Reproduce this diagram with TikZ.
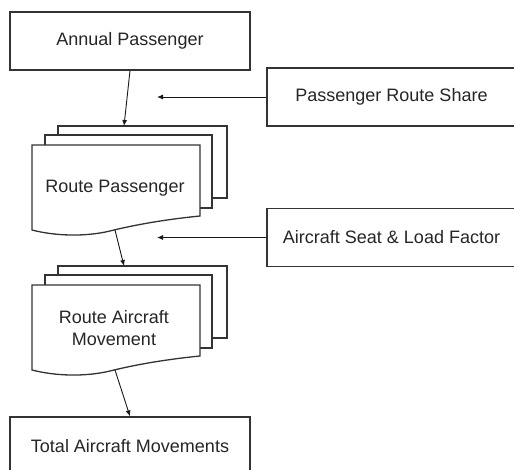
\documentclass[tikz,border=0pt]{standalone}
\usepackage{fontspec}
\setmainfont{Liberation Sans}
\usetikzlibrary{arrows.meta}

% stacked documents: back sheet, middle sheet, front sheet with a wavy bottom
\newcommand{\docstack}[1]{%
    \filldraw[sheet] (26,-19) rectangle (195,53);
    \filldraw[sheet] (13,-10) rectangle (180,63);
    \filldraw[sheet] (0,0) -- (168,0) -- (168,71)
        .. controls (128,75) and (98,81) .. (78,86)
        .. controls (53,92) and (23,91) .. (0,85) -- cycle;
    \coordinate (#1-top) at (92,-19);
    \coordinate (#1-bottom) at (83,85);
}

\begin{document}
\begin{tikzpicture}[x=1pt, y=-1pt,
        box/.style={draw=black!80, line width=1.3pt, fill=white, inner sep=0pt,
            minimum height=58pt, font=\fontsize{18}{22}\selectfont, text=black!85},
        sheet/.style={draw=black!80, fill=white, line width=1.3pt},
        doctext/.style={font=\fontsize{18}{22}\selectfont, text=black!85, align=center},
        flow/.style={-{Latex[length=6pt,width=5pt]}, line width=0.9pt, black!90}]

        \useasboundingbox (0,0) rectangle (514,469);
        \clip (0,0) rectangle (514,469);

        % Define and draw the input boxes
        \node[box, minimum width=240pt] (annual) at (130,41) {Annual Passenger};
        \node[box, minimum width=249pt] (share) at (391.5,97) {Passenger Route Share};
        \node[box, minimum width=249pt] (seat) at (391.5,237.5) {Aircraft Seat \& Load Factor};
        \node[box, minimum width=240pt] (total) at (130,446) {Total Aircraft Movements};

        % The two stacks of documents
        \begin{scope}[shift={(32,145)}]
            \docstack{rp}
        \end{scope}
        \node[doctext] (routepax) at (115,188) {Route Passenger};

        \begin{scope}[shift={(32,285)}]
            \docstack{ram}
        \end{scope}
        \node[doctext] (routeac) at (114,328) {Route Aircraft\\Movement};

        % Connect them with arrows
        \coordinate (sharetip) at (157,97);
        \coordinate (seattip) at (157,237.5);
        \draw[flow] (annual.south) -- (rp-top);
        \draw[flow] (rp-bottom) -- (ram-top);
        \draw[flow] (ram-bottom) -- (total.north);
        \draw[flow] (share.west) -- (sharetip);
        \draw[flow] (seat.west) -- (seattip);
    \end{tikzpicture}
\end{document}
